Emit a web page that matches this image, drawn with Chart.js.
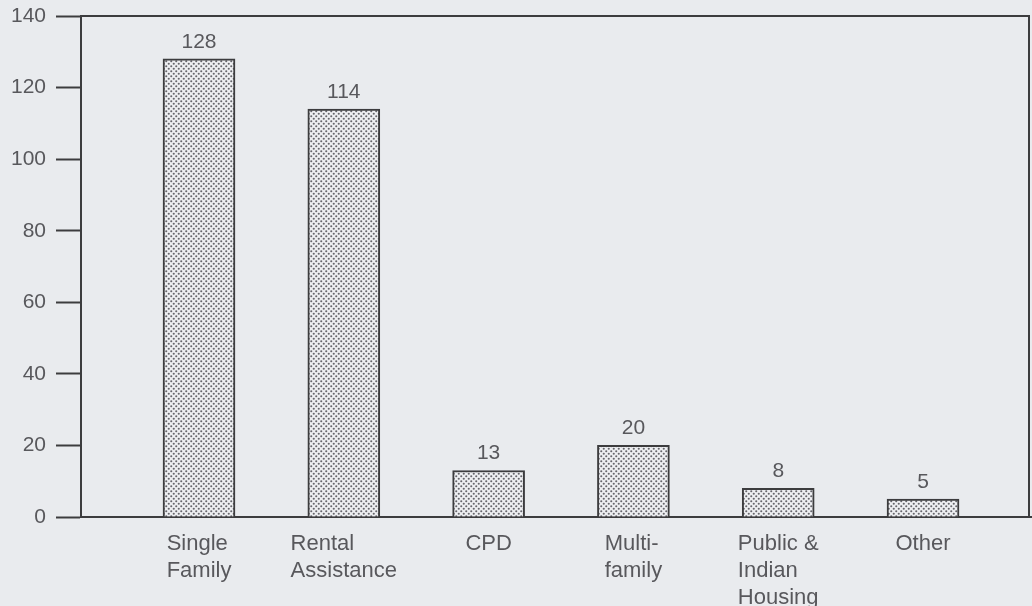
<!DOCTYPE html>
<html>
<head>
<meta charset="utf-8">
<script src="https://cdn.jsdelivr.net/npm/chart.js@4.4.1/dist/chart.umd.min.js"></script>
<style>
  html, body { margin: 0; padding: 0; background: #e9ebee; }
  #wrap { width: 1032px; height: 606px; position: relative; }
</style>
</head>
<body>
<div id="wrap"><canvas id="c" width="1032" height="606"></canvas></div>
<script>
// Programs and their counts
const categories = [
  ['Single', 'Family'],
  ['Rental', 'Assistance'],
  ['CPD'],
  ['Multi-', 'family'],
  ['Public &', 'Indian', 'Housing'],
  ['Other']
];
const counts = [128, 114, 13, 20, 8, 5];
const yTicks = [0, 20, 40, 60, 80, 100, 120, 140];

const INK = '#3c3c3e';
const TEXT = '#58585c';
const FONT = '"Liberation Sans", Arial, Helvetica, sans-serif';

// Stippled fill for the bars
function dotPattern() {
  const t = document.createElement('canvas');
  t.width = 5; t.height = 5;
  const g = t.getContext('2d');
  g.fillStyle = '#eeeff2';
  g.fillRect(0, 0, 5, 5);
  g.fillStyle = '#66666c';
  [[1.25, 1.25], [3.75, 3.75]].forEach(([x, y]) => {
    g.beginPath(); g.arc(x, y, 1.05, 0, Math.PI * 2); g.fill();
  });
  return g.createPattern(t, 'repeat');
}

const ctx = document.getElementById('c').getContext('2d');

// Frame: top edge at the maximum and the right edge
const framePlugin = {
  id: 'frame',
  afterDraw(chart) {
    const { ctx, chartArea: a, scales: { y } } = chart;
    ctx.save();
    ctx.strokeStyle = INK;
    ctx.lineWidth = 2;
    ctx.beginPath();
    ctx.moveTo(a.left, y.getPixelForValue(140));
    ctx.lineTo(a.right + 1, y.getPixelForValue(140));
    ctx.lineTo(a.right + 1, y.getPixelForValue(0));
    ctx.moveTo(a.right, y.getPixelForValue(0));
    ctx.lineTo(chart.width, y.getPixelForValue(0));
    ctx.stroke();
    ctx.restore();
  }
};

// Value labels above the bars and the category labels below the axis
const labelPlugin = {
  id: 'labels',
  afterDatasetsDraw(chart) {
    const { ctx, scales: { x, y } } = chart;
    ctx.save();
    ctx.fillStyle = TEXT;
    ctx.font = '21px ' + FONT;
    ctx.textAlign = 'center';
    ctx.textBaseline = 'alphabetic';
    counts.forEach((v, i) => {
      ctx.fillText(String(v), x.getPixelForValue(i), y.getPixelForValue(v) - 11);
    });
    ctx.font = '22px ' + FONT;
    ctx.textAlign = 'left';
    const base = y.getPixelForValue(0);
    categories.forEach((lines, i) => {
      const w = Math.max(...lines.map(s => ctx.measureText(s).width));
      const left = x.getPixelForValue(i) - w / 2;
      lines.forEach((s, k) => {
        ctx.fillText(s, left, base + 33 + k * 27);
      });
    });
    ctx.restore();
  }
};

new Chart(ctx, {
  type: 'bar',
  data: {
    datasets: [{
      data: counts.map((v, i) => ({ x: i, y: v })),
      backgroundColor: dotPattern(),
      borderColor: INK,
      borderWidth: 2,
      borderSkipped: 'bottom',
      barThickness: 72
    }]
  },
  options: {
    responsive: false,
    animation: false,
    devicePixelRatio: 1,
    layout: { padding: { top: 0, right: 4, left: 0, bottom: 0 } },
    plugins: { legend: { display: false }, tooltip: { enabled: false } },
    scales: {
      x: {
        type: 'linear',
        offset: false,
        min: -0.815,
        max: 5.725,
        ticks: { display: false },
        grid: { display: false, drawTicks: false, offset: false },
        border: { display: true, color: INK, width: 2 },
        afterFit(s) { s.height = 89; }
      },
      y: {
        min: 0,
        max: 140,
        afterBuildTicks(s) { s.ticks = yTicks.map(v => ({ value: v })); },
        ticks: {
          color: TEXT,
          font: { family: FONT, size: 21, lineHeight: 1.2 },
          padding: 10
        },
        grid: {
          drawOnChartArea: false,
          drawTicks: true,
          tickLength: 25,
          tickWidth: 2,
          tickColor: INK
        },
        border: { display: true, color: INK, width: 2 },
        afterFit(s) {
          s.width = 81;
          s.paddingTop = 16;
        }
      }
    }
  },
  plugins: [framePlugin, labelPlugin]
});
</script>
</body>
</html>
